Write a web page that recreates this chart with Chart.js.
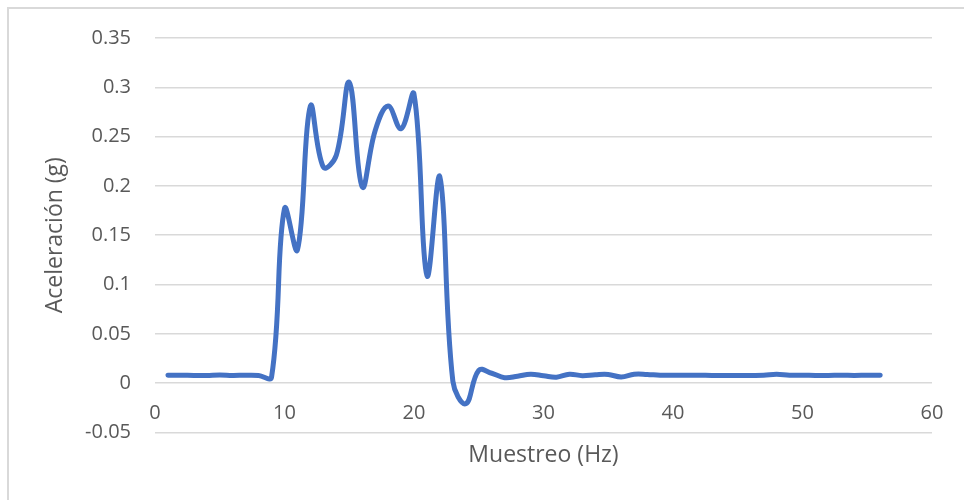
<!DOCTYPE html>
<html>
<head>
<meta charset="utf-8">
<script src="https://cdn.jsdelivr.net/npm/chart.js@4.4.1/dist/chart.umd.min.js"></script>
<style>
  html, body { margin: 0; padding: 0; background: #fff; }
  #wrap { width: 964px; height: 500px; position: relative; }
</style>
</head>
<body>
<div id="wrap"><canvas id="chart" width="964" height="500"></canvas></div>
<script>
// muestreo (Hz)
const muestreo = [1, 2, 3, 4, 5, 6, 7, 8, 9, 10, 11, 12, 13, 14, 15, 16, 17, 18, 19, 20,
  21, 22, 23, 24, 25, 26, 27, 28, 29, 30, 31, 32, 33, 34, 35, 36, 37, 38, 39, 40,
  41, 42, 43, 44, 45, 46, 47, 48, 49, 50, 51, 52, 53, 54, 55, 56];

// aceleracion (g)
const aceleracion = [0.008, 0.008, 0.0078, 0.0078, 0.0082, 0.0078, 0.008, 0.0078, 0.006, 0.177,
  0.135, 0.281, 0.219, 0.231, 0.305, 0.199, 0.256, 0.281, 0.258, 0.293,
  0.109, 0.209, 0.002, -0.021, 0.013, 0.010, 0.0055, 0.007, 0.009, 0.0075,
  0.006, 0.009, 0.0075, 0.0085, 0.0088, 0.0062, 0.009, 0.0088, 0.008, 0.008,
  0.008, 0.008, 0.0078, 0.0078, 0.0076, 0.0078, 0.008, 0.009, 0.008, 0.008,
  0.0078, 0.0078, 0.008, 0.0078, 0.008, 0.008];

const ejeX = { min: 0, max: 60, step: 10 };
const ejeY = { min: -0.05, max: 0.35, step: 0.05 };

const textColor = "#595959";
const gridColor = "#d9d9d9";
const fontFamily = "'Open Sans', sans-serif";

// marco gris del grafico
const marco = {
  id: "marco",
  beforeDraw(chart) {
    const c = chart.ctx;
    c.save();
    c.strokeStyle = gridColor;
    c.lineWidth = 2;
    c.strokeRect(8, 8, 1000, 600);
    c.restore();
  },
};

const ctx = document.getElementById("chart").getContext("2d");
new Chart(ctx, {
  type: "line",
  data: {
    datasets: [
      {
        data: muestreo.map((x, i) => ({ x: x, y: aceleracion[i] })),
        borderColor: "#4472C4",
        borderWidth: 5,
        borderCapStyle: "round",
        borderJoinStyle: "round",
        pointRadius: 0,
        tension: 0.4,
        fill: false,
      },
    ],
  },
  options: {
    responsive: false,
    animation: false,
    layout: { padding: { left: 0, right: 32, top: 38, bottom: 31 } },
    plugins: {
      legend: { display: false },
      tooltip: { enabled: false },
    },
    scales: {
      x: {
        type: "linear",
        position: { y: 0 },
        min: ejeX.min,
        max: ejeX.max,
        grid: { display: false, drawTicks: false },
        border: { display: false },
        ticks: {
          stepSize: ejeX.step,
          padding: 18,
          color: textColor,
          font: { family: fontFamily, size: 20 },
        },
      },
      xTitulo: {
        type: "linear",
        position: "bottom",
        grid: { display: false, drawTicks: false },
        border: { display: false },
        ticks: { display: false },
        title: {
          display: true,
          text: "Muestreo (Hz)",
          color: textColor,
          font: { family: fontFamily, size: 23 },
          padding: { top: 9, bottom: 0 },
        },
      },
      y: {
        min: ejeY.min,
        max: ejeY.max,
        afterFit: (scale) => { scale.width = 155; },
        grid: { color: gridColor, lineWidth: 1.5, drawTicks: false },
        border: { display: false },
        ticks: {
          stepSize: ejeY.step,
          padding: 24,
          color: textColor,
          font: { family: fontFamily, size: 20 },
          callback: (v) => String(parseFloat(Number(v).toFixed(2))),
        },
        title: {
          display: true,
          text: "Aceleración (g)",
          color: textColor,
          font: { family: fontFamily, size: 23 },
          padding: { top: 42, bottom: 0 },
        },
      },
    },
  },
  plugins: [marco],
});
</script>
</body>
</html>
